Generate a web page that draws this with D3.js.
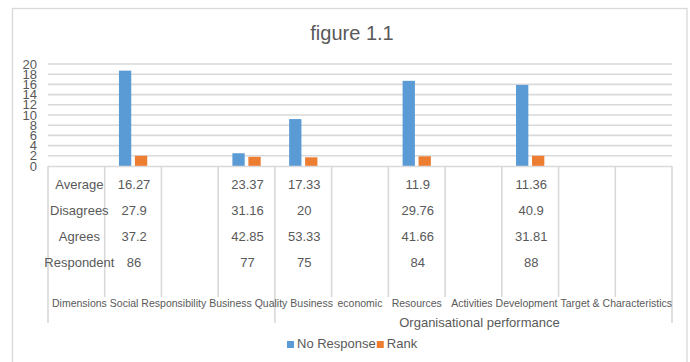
<!DOCTYPE html>
<html>
<head>
<meta charset="utf-8">
<script src="https://cdn.jsdelivr.net/npm/d3@7"></script>
<style>
  html, body { margin: 0; padding: 0; background: #fff; }
  svg { display: block; font-family: "Liberation Sans", Arial, sans-serif; }
</style>
</head>
<body>
<svg id="chart" width="690" height="362"></svg>
<script>
// Category columns of the axis (bottom label row)
const categories = ["Dimensions", "Social Responsibility", "", "Business Quality", "Business",
  "economic", "Resources", "Activities", "Development", "Target &", "Characteristics"];

// Series values per column (null = no bar)
const noResponse = [null, 18.7, null, 2.5, 9.2, null, 16.7, null, 15.9, null, null];
const rank       = [null, 2.0,  null, 1.8, 1.7, null, 1.9,  null, 2.0,  null, null];

// Table rows shown under the axis
const rowLabels  = ["Average", "Disagrees", "Agrees", "Respondent"];
const average    = ["", "16.27", "", "23.37", "17.33", "", "11.9",  "", "11.36", "", ""];
const disagrees  = ["", "27.9",  "", "31.16", "20",    "", "29.76", "", "40.9",  "", ""];
const agrees     = ["", "37.2",  "", "42.85", "53.33", "", "41.66", "", "31.81", "", ""];
const respondent = ["", "86",    "", "77",    "75",    "", "84",    "", "88",    "", ""];

// Outer grouping level of the axis
const groupLabels = ["", "Organisational performance"];
const groupStarts = [0, 4];

const yTicks = [0, 2, 4, 6, 8, 10, 12, 14, 16, 18, 20];
const seriesNames = ["No Response", "Rank"];
const seriesColors = ["#5B9BD5", "#ED7D31"];

const svg = d3.select("#chart");
const textColor = "#595959";
const lineColor = "#d9d9d9";

const plot = { left: 48, right: 672, top: 64, bottom: 166 };

// Chart frame
svg.append("rect")
  .attr("x", 12.5).attr("y", 8.5)
  .attr("width", 674.5).attr("height", 400)
  .attr("fill", "none").attr("stroke", lineColor).attr("stroke-width", 1.3);

// Title
svg.append("text")
  .attr("x", 352).attr("y", 40)
  .attr("text-anchor", "middle")
  .attr("font-size", 20).attr("fill", textColor)
  .text("figure 1.1");

const idx = d3.range(categories.length);
const x = d3.scaleBand().domain(idx).range([plot.left, plot.right]).paddingInner(0).paddingOuter(0);
const x1 = d3.scaleBand().domain(seriesNames).range([0, x.step()]).paddingInner(0.23).paddingOuter(0.89);
const y = d3.scaleLinear().domain([0, 20]).range([plot.bottom, plot.top]);

// Gridlines
svg.append("g").selectAll("line").data(yTicks.filter(d => d > 0)).join("line")
  .attr("x1", plot.left).attr("x2", plot.right)
  .attr("y1", d => y(d)).attr("y2", d => y(d))
  .attr("stroke", lineColor).attr("stroke-width", 1.6);

// Y axis labels (tightly packed, as the axis is short)
const yAxis = d3.axisLeft(y).tickValues(yTicks).tickSize(0).tickPadding(0);
const gy = svg.append("g").attr("transform", "translate(37,0)").call(yAxis);
gy.select(".domain").remove();
gy.selectAll("text").attr("font-size", 13).attr("fill", textColor)
  .attr("font-family", "Liberation Sans, Arial, sans-serif");

// Bars
const series = [noResponse, rank];
series.forEach((vals, s) => {
  svg.append("g").selectAll("rect")
    .data(idx.filter(i => vals[i] != null))
    .join("rect")
    .attr("x", i => x(i) + x1(seriesNames[s]))
    .attr("width", x1.bandwidth())
    .attr("y", i => y(vals[i]))
    .attr("height", i => y(0) - y(vals[i]))
    .attr("fill", seriesColors[s]);
});

// Axis line
svg.append("line")
  .attr("x1", plot.left).attr("x2", plot.right)
  .attr("y1", plot.bottom + 0.5).attr("y2", plot.bottom + 0.5)
  .attr("stroke", lineColor).attr("stroke-width", 1.6);

// Column dividers of the table / category axis
const boundaries = d3.range(categories.length + 1).map(i => plot.left + i * x.step());
const longLines = new Set([0, ...groupStarts.filter(g => g > 0), categories.length]);
svg.append("g").selectAll("line").data(d3.range(boundaries.length)).join("line")
  .attr("x1", i => boundaries[i]).attr("x2", i => boundaries[i])
  .attr("y1", plot.bottom)
  .attr("y2", i => longLines.has(i) ? 323 : 297)
  .attr("stroke", lineColor).attr("stroke-width", 1.6);

// Table rows
const rows = [average, disagrees, agrees, respondent];
rows.forEach((vals, r) => {
  const yy = 189 + r * 26;
  const g = svg.append("g");
  g.append("text")
    .attr("x", x(0) + x.bandwidth() / 2 + 3).attr("y", yy)
    .attr("text-anchor", "middle").attr("font-size", 13).attr("fill", textColor)
    .text(rowLabels[r]);
  g.selectAll("text.v").data(idx.filter(i => vals[i] !== "")).join("text")
    .attr("class", "v")
    .attr("x", i => x(i) + x.bandwidth() / 2 + 1).attr("y", yy)
    .attr("text-anchor", "middle").attr("font-size", 13).attr("fill", textColor)
    .text(i => vals[i]);
});

// Category label row: centred on columns, nudged apart where they would collide
const catG = svg.append("g");
const catItems = idx.filter(i => categories[i] !== "").map(i => {
  const t = catG.append("text")
    .attr("y", 307).attr("font-size", 10.5).attr("fill", textColor)
    .text(categories[i]);
  const w = t.node().getComputedTextLength();
  return { t, w, start: x(i) + x.bandwidth() / 2 - w / 2 };
});
const gap = 3;
let bound = plot.right;
for (let k = catItems.length - 1; k >= 0; k--) {
  const it = catItems[k];
  if (it.start + it.w > bound) it.start = bound - it.w;
  bound = it.start - gap;
}
let prevEnd = plot.left + 1;
catItems.forEach(it => {
  if (it.start < prevEnd + gap) it.start = prevEnd + gap;
  prevEnd = it.start + it.w;
  it.t.attr("x", it.start);
});

// Group labels
groupLabels.forEach((lab, gi) => {
  if (!lab) return;
  const a = boundaries[groupStarts[gi]];
  const b = gi + 1 < groupStarts.length ? boundaries[groupStarts[gi + 1]] : boundaries[categories.length];
  svg.append("text")
    .attr("x", (a + b) / 2 + 6).attr("y", 327)
    .attr("text-anchor", "middle").attr("font-size", 13).attr("fill", textColor)
    .text(lab);
});

// Legend
const legend = svg.append("g");
let lx = 287;
seriesNames.forEach((name, s) => {
  legend.append("rect").attr("x", lx).attr("y", 341).attr("width", 7).attr("height", 7)
    .attr("fill", seriesColors[s]);
  const t = legend.append("text").attr("x", lx + 10).attr("y", 348)
    .attr("font-size", 13).attr("fill", textColor).text(name);
  lx += 10 + t.node().getComputedTextLength() + 1;
});
</script>
</body>
</html>
